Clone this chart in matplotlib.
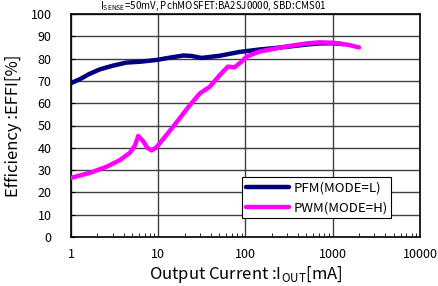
import numpy as np
import matplotlib
matplotlib.use("Agg")
import matplotlib.pyplot as plt
from matplotlib.ticker import LogLocator, NullFormatter, FixedLocator

plt.rcParams['font.family'] = ['Noto Sans CJK JP', 'DejaVu Sans']

pfm_x = [1, 1.3, 1.6, 2.15, 3, 4.3, 6.2, 9.6, 13, 19.4, 24, 31.3, 40, 51, 86, 146, 200, 300, 500, 700, 1000, 1300]
pfm_y = [69, 71, 73, 75.2, 76.8, 78.2, 78.6, 79.4, 80.3, 81.4, 81.2, 80.3, 80.8, 81.3, 83, 84.1, 84.6, 85.3, 86.3, 86.8, 86.9, 86.5]

pwm_x = [1, 1.65, 2.56, 3.64, 4.74, 5.4, 5.9, 6.7, 7.5, 8.4, 9.4, 10.4, 14.9, 23.1, 30, 39, 51, 63, 75, 90, 103, 146, 200, 300, 500, 700, 1000, 1500, 2000]
pwm_y = [26.5, 28.8, 31.5, 34.5, 37.8, 41, 45.3, 43, 40, 38.8, 40, 42, 49.6, 59.2, 64.4, 67.4, 72.7, 76.4, 76.1, 78.6, 80.9, 83.2, 84.2, 85.5, 86.8, 87.3, 87.1, 86.2, 85]

x_ticks = [1, 10, 100, 1000, 10000]
x_labels = ['1', '10', '100', '1000', '10000']
y_ticks = list(range(0, 101, 10))

fig = plt.figure(figsize=(4.39, 2.86), dpi=100)
ax = fig.add_axes([71/439, 1-237/286, (420-71)/439, (237-14)/286])

ax.plot(pfm_x, pfm_y, color='#000080', lw=3.2, solid_capstyle='round', label='PFM(MODE=L)', zorder=3)
ax.plot(pwm_x, pwm_y, color='#ff00ff', lw=3.2, solid_capstyle='round', label='PWM(MODE=H)', zorder=4)

ax.set_xscale('log')
ax.set_xlim(1, 10000)
ax.set_ylim(0, 100)
ax.xaxis.set_major_locator(FixedLocator(x_ticks))
ax.set_xticklabels(x_labels)
ax.xaxis.set_minor_locator(LogLocator(base=10, subs=np.arange(2, 10)))
ax.xaxis.set_minor_formatter(NullFormatter())
ax.set_yticks(y_ticks)
ax.set_yticklabels([str(v) for v in y_ticks])

ax.grid(True, which='major', color='#404040', lw=1.0)
ax.tick_params(axis='both', which='both', direction='in', labelsize=9, colors='black')
ax.tick_params(axis='x', which='major', length=0, pad=8)
ax.tick_params(axis='x', which='minor', length=3)
ax.tick_params(axis='y', which='major', length=3, pad=14)
for s in ax.spines.values():
    s.set_color('black')
    s.set_linewidth(1.2)

ax.set_xlabel('Output Current :I$_{\\mathregular{OUT}}$[mA]', fontsize=12, labelpad=2)
ax.set_ylabel('Efficiency :EFFI[%]', fontsize=12, labelpad=6)

leg = ax.legend(loc='lower right', bbox_to_anchor=(398/439, 1-225/286), bbox_transform=fig.transFigure,
                fontsize=9.5, frameon=True, fancybox=False, edgecolor='black', framealpha=1,
                handlelength=3.3, handletextpad=0.3, borderpad=0.3, labelspacing=0.55)
leg.get_frame().set_linewidth(0.8)

fig.text(100/439, 1 - 6/286, 'I$_{\\mathregular{SENSE}}$=50mV, PchMOSFET:BA2SJ0000, SBD:CMS01', fontsize=7,
         va='center', ha='left')

fig.savefig('out.png', dpi=100)
